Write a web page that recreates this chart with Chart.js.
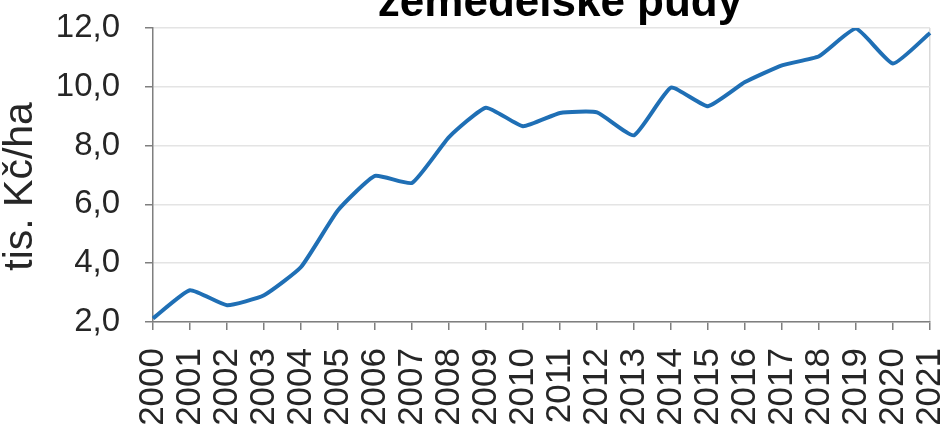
<!DOCTYPE html>
<html>
<head>
<meta charset="utf-8">
<script src="https://cdn.jsdelivr.net/npm/chart.js@4"></script>
<style>
html,body{margin:0;padding:0;background:#fff;overflow:hidden;}
#wrap{position:relative;width:948px;height:427px;}
</style>
</head>
<body>
<div id="wrap"><canvas id="c"></canvas></div>
<script>
const years = ['2000','2001','2002','2003','2004','2005','2006','2007','2008','2009','2010','2011','2012','2013','2014','2015','2016','2017','2018','2019','2020','2021'];
const prices = [2.12, 3.08, 2.57, 2.91, 3.87, 5.80, 6.97, 6.73, 8.29, 9.29, 8.66, 9.11, 9.13, 8.35, 9.97, 9.34, 10.16, 10.73, 11.04, 11.98, 10.79, 11.83];
const titleText = 'zemědělské půdy';
const yTitle = 'tis. Kč/ha';
const yMin = 2, yMax = 12, yStep = 2;

Chart.defaults.font.family = '"Liberation Sans", Arial, sans-serif';
Chart.defaults.color = '#262626';

// Title partly cropped at the top of the picture, as in the reference
const croppedTitle = {
  id: 'croppedTitle',
  afterDraw(chart) {
    const ctx = chart.ctx;
    ctx.save();
    ctx.font = 'bold 44px "Liberation Sans", Arial, sans-serif';
    ctx.fillStyle = '#000';
    ctx.textAlign = 'center';
    ctx.textBaseline = 'alphabetic';
    ctx.fillText(titleText, 560, 16);
    ctx.restore();
  }
};

new Chart(document.getElementById('c'), {
  type: 'line',
  data: {
    labels: years,
    datasets: [{
      data: prices,
      borderColor: '#1f6fb5',
      borderWidth: 4,
      pointRadius: 0,
      tension: 0.15,
      fill: false
    }]
  },
  plugins: [croppedTitle],
  options: {
    responsive: true,
    maintainAspectRatio: false,
    animation: false,
    devicePixelRatio: 1,
    layout: { padding: { left: 0, right: 18, top: 28, bottom: 0 } },
    plugins: {
      legend: { display: false },
      tooltip: { enabled: false },
      title: { display: false }
    },
    scales: {
      x: {
        offset: false,
        afterFit: (s) => { s.height = 105; s.paddingLeft = 0; s.paddingRight = 0; },
        grid: {
          drawOnChartArea: true,
          color: (ctx) => ctx.index === years.length - 1 ? '#d9d9d9' : 'rgba(0,0,0,0)',
          tickColor: '#7f7f7f',
          tickLength: 8,
          lineWidth: 1.5
        },
        border: { color: '#7f7f7f', width: 1.5 },
        ticks: {
          minRotation: 90,
          maxRotation: 90,
          autoSkip: false,
          padding: 18,
          font: { size: 35 },
          color: '#262626'
        }
      },
      y: {
        min: yMin,
        max: yMax,
        afterFit: (s) => { s.width = 153; s.paddingTop = 0; s.paddingBottom = 0; },
        grid: {
          color: '#e4e4e4',
          lineWidth: 1.5,
          tickColor: '#7f7f7f',
          tickLength: 8
        },
        border: { color: '#7f7f7f', width: 1.5 },
        ticks: {
          stepSize: yStep,
          padding: 25,
          font: { size: 33 },
          color: '#262626',
          callback: (v) => v.toFixed(1).replace('.', ',')
        },
        title: {
          display: true,
          text: yTitle + '  ',
          color: '#262626',
          font: { size: 41, lineHeight: 1.0 },
          padding: { top: 0, bottom: 18 }
        }
      }
    }
  }
});
</script>
</body>
</html>
